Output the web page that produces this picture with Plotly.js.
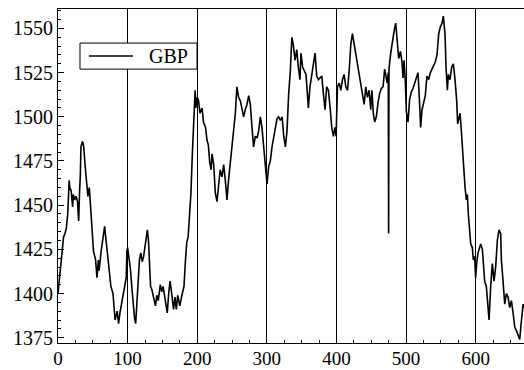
<!DOCTYPE html>
<html>
<head>
<meta charset="utf-8">
<script src="https://cdn.plot.ly/plotly-3.0.1.min.js"></script>
<style>html,body{margin:0;padding:0;background:#fff;}#chart{width:524px;height:370px;}</style>
</head>
<body>
<div id="chart"></div>
<script>
var seriesName = "GBP";
var xs = [0,1,2,4,6,8,10,12,14,16,17,19,21,22,24,26,28,29.7,31,32,33,35,36,37,39,41,43,45,47,49,51,54,56,58,59,62,64,67,68,70,71,74,76,79,81,82,85,87,89,91,93,95,98,99,
100,102,104,106,108,110,111.6,113,115,117,119,121,123,125,127,128.4,130,132,133,135,137,140,142,144,147,149,151,154,157,159,161,163,166,168,170,172,175,178,181,183,185,187,189,191,193,195,197,198,
200,202,204,207,209,212,214,216,218,220,221.3,223.7,226,228.4,230.8,233,235.6,238,240.4,242.8,245,247.6,250,252.4,254.8,257,259.5,262,264.3,266.7,269,271.5,274,276.3,278.7,281,283.5,286,288.3,290.7,293,295.5,298,
300.3,302.7,305,307.5,310,312.3,314.7,317,319.5,322,324.3,326.7,329,331.4,333.8,336,338,340.5,343,345.3,347.7,349,351.5,354,356.3,358.3,359.7,362,364.5,367,369.3,371.7,374,376.5,379,381.3,383.7,386,388.5,391,393.3,395.7,398,399.5,
401.5,404,406.3,408.7,411,413.5,416,418.3,420.7,423,425.4,427.8,430.2,432.6,435,437.4,439.8,442.2,444.6,447,449.3,451,453,455,457.3,459.8,462,464.5,467,469.3,471.6,473,474.5,475,475.5,478,481,483.5,485.2,487.5,489.5,492,494.2,495.7,497.1,499,
500.5,502.8,505.2,507.6,510,512.4,514.8,517.2,519.6,521,523,525.3,527.7,530,532.6,535,537.4,539.8,542,544.5,547,549.4,551.7,553.6,556,557.5,559.4,560.8,563.2,565.6,568,570.4,572.8,574.2,576.1,577.6,579.5,581,583.3,584.8,586.7,588.1,589.5,591.4,593,595.3,596.7,598.6,
600,601.5,603.4,605.8,607.3,609.7,611.1,613,615.4,616.8,619.3,621.6,624,626.4,628.8,631.2,633.6,636,637,639.4,641.8,644.2,646.6,649,651.4,653.8,656.2,658.6,661,663.4,664.9,666.3,668.2,669.6];
var gbp = [1400,1404,1411,1419,1426,1432,1434,1437,1445,1464,1460,1458,1449,1456,1453,1455,1452,1441,1458,1466,1483,1486,1485,1483,1472,1464,1455,1460,1449,1434,1424,1419,1409,1419,1413,1424,1430,1438,1434,1426,1423,1408,1404,1400,1392,1385,1390,1383,1389,1394,1398,1404,1409,1424,
1426,1420,1414,1404,1392,1386,1383,1392,1410,1419,1423,1418,1421,1426,1430,1436,1430,1412,1404,1402,1398,1393,1399,1396,1405,1401,1404,1397,1389,1400,1407,1401,1391,1398,1391,1399,1393,1399,1404,1418,1429,1432,1445,1457,1479,1498,1515,1505,
1511,1509,1502,1505,1497,1494,1487,1484,1474,1470,1479,1473,1457,1452,1460,1470,1466,1473,1464,1453,1464,1475,1481,1492,1502,1517,1511,1509,1505,1500,1504,1507,1512,1507,1494,1483,1489,1488,1492,1500,1494,1483,1475,
1462,1472,1475,1483,1489,1492,1499,1500,1498,1500,1489,1483,1492,1513,1526,1545,1541,1532,1538,1528,1521,1536,1528,1526,1524,1513,1505,1517,1524,1530,1536,1523,1521,1522,1523,1513,1504,1517,1515,1505,1494,1489,1494,1489,
1517,1519,1515,1521,1524,1517,1515,1526,1541,1547,1541,1536,1530,1524,1519,1513,1507,1517,1511,1515,1504,1515,1502,1497,1500,1508,1513,1516,1517,1527,1521,1519,1525,1434,1527,1536,1545,1550,1553,1540,1533,1537,1531,1522,1532,1520,
1503,1497,1510,1514,1516,1519,1522,1525,1507,1494,1504,1508,1512,1523,1521,1525,1527,1529,1531,1535,1547,1551,1553,1557,1547,1528,1515,1524,1521,1528,1530,1521,1509,1496,1500,1502,1492,1481,1472,1460,1453,1456,1445,1434,1428,1426,1419,1421,
1409,1417,1423,1426,1428,1425,1419,1407,1404,1396,1385,1404,1417,1407,1415,1430,1436,1434,1419,1407,1394,1400,1398,1392,1396,1389,1381,1379,1376,1374,1381,1389,1394,1392];
var yTicks = [1375,1400,1425,1450,1475,1500,1525,1550];
var xTicks = [0,100,200,300,400,500,600];

var fontFam = "Times New Roman, Liberation Serif, DejaVu Serif";
var trace = {
  x: xs, y: gbp, type: "scatter", mode: "lines", name: seriesName,
  line: {color: "#000", width: 1.6}, showlegend: false
};
var layout = {
  width: 524, height: 370,
  margin: {l: 58, r: 0, t: 9, b: 27},
  paper_bgcolor: "#fff", plot_bgcolor: "#fff",
  font: {family: fontFam, size: 20, color: "#000"},
  showlegend: false,
  shapes: [
    {type: "rect", xref: "paper", yref: "paper", x0: 0.0472, x1: 0.2983, y0: 0.820, y1: 0.898,
     line: {color: "#000", width: 1}, fillcolor: "#fff", layer: "above"},
    {type: "line", xref: "paper", yref: "paper", x0: 0.0665, x1: 0.1609, y0: 0.8593, y1: 0.8593,
     line: {color: "#000", width: 1.6}, layer: "above"}
  ],
  annotations: [
    {text: seriesName, xref: "paper", yref: "paper", x: 0.2371, y: 0.8593, xanchor: "center", yanchor: "middle",
     showarrow: false, font: {family: fontFam, size: 20, color: "#000"}}
  ],
  xaxis: {range: [0, 669.5], tickvals: xTicks, ticktext: xTicks.map(String),
    ticks: "inside", ticklen: 6, tickcolor: "#000",
    showgrid: true, gridcolor: "#000", gridwidth: 1,
    showline: true, linecolor: "#000", linewidth: 1, mirror: true,
    zeroline: false, ticklabelstandoff: -2,
    minor: {dtick: 25, tick0: 0, ticks: "inside", ticklen: 3, tickcolor: "#000", showgrid: false},
    tickfont: {family: fontFam, size: 19}},
  yaxis: {range: [1372, 1561], tickvals: yTicks, ticktext: yTicks.map(String),
    ticks: "inside", ticklen: 6, tickcolor: "#000",
    showgrid: false, showline: true, linecolor: "#000", linewidth: 1,
    zeroline: false,
    minor: {dtick: 5, tick0: 1375, ticks: "inside", ticklen: 3, tickcolor: "#000", showgrid: false},
    tickfont: {family: fontFam, size: 20}}
};
Plotly.newPlot("chart", [trace], layout, {displayModeBar: false, staticPlot: true});
</script>
</body>
</html>
